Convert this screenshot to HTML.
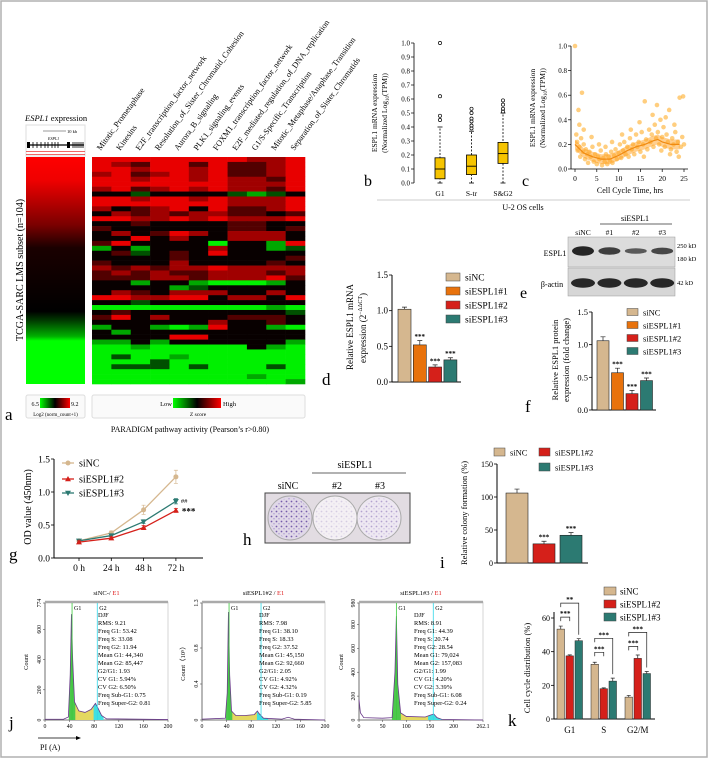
<!DOCTYPE html>
<html><head><meta charset="utf-8"><style>
html,body{margin:0;padding:0;background:#fff;}
svg{display:block;font-family:"Liberation Serif","DejaVu Serif",serif;}
</style></head><body>
<svg id="fig" xmlns="http://www.w3.org/2000/svg" width="708" height="759" viewBox="0 0 708 759">
<defs>
<linearGradient id="espGrad" x1="0" y1="0" x2="0" y2="1">
<stop offset="0" stop-color="#ff0000"/><stop offset="0.1" stop-color="#f00000"/><stop offset="0.3" stop-color="#7a0000"/><stop offset="0.4" stop-color="#1a0000"/><stop offset="0.68" stop-color="#000"/><stop offset="0.72" stop-color="#003a00"/><stop offset="0.79" stop-color="#00b000"/><stop offset="0.81" stop-color="#00ff00"/><stop offset="1" stop-color="#00ff00"/>
</linearGradient>
<linearGradient id="gkr" x1="0" y1="0" x2="1" y2="0"><stop offset="0" stop-color="#00ff00"/><stop offset="0.5" stop-color="#000"/><stop offset="1" stop-color="#ff0000"/></linearGradient>
<pattern id="dots" width="5" height="5" patternUnits="userSpaceOnUse"><circle cx="1.5" cy="1.5" r="0.9" fill="#5a3c9a"/><circle cx="4" cy="3.8" r="0.6" fill="#7a60b8"/></pattern>
</defs>
<rect x="1" y="1" width="706" height="756" fill="#fff" stroke="#b0b0b0" stroke-width="1.5"/>

<g>
<text x="25" y="121" font-size="8.5"><tspan font-style="italic">ESPL1</tspan> expression</text>
<rect x="26" y="125" width="59" height="31" fill="#fff" stroke="#ddd"/>
<line x1="43" y1="131" x2="66" y2="131" stroke="#333" stroke-width="0.5"/>
<text x="67" y="133" font-size="4.5">10 kb</text>
<text x="48" y="140" font-size="4" font-style="italic">ESPL1</text>
<line x1="27" y1="145" x2="84" y2="145" stroke="#000" stroke-width="1.2"/>
<rect x="27" y="142" width="3" height="6" fill="#000"/><rect x="67" y="142" width="3" height="6" fill="#000"/>
<g stroke="#000" stroke-width="0.8"><line x1="33" y1="142" x2="33" y2="148"/><line x1="37" y1="142" x2="37" y2="148"/><line x1="41" y1="142" x2="41" y2="148"/><line x1="45" y1="142" x2="45" y2="148"/><line x1="48" y1="142" x2="48" y2="148"/><line x1="52" y1="142" x2="52" y2="148"/><line x1="55" y1="142" x2="55" y2="148"/><line x1="58" y1="142" x2="58" y2="148"/><line x1="73" y1="142" x2="73" y2="148"/><line x1="75" y1="142" x2="75" y2="148"/><line x1="77" y1="142" x2="77" y2="148"/><line x1="79" y1="142" x2="79" y2="148"/><line x1="81" y1="142" x2="81" y2="148"/><line x1="83" y1="142" x2="83" y2="148"/></g>
<line x1="26" y1="151.5" x2="85" y2="151.5" stroke="#e33" stroke-width="0.8"/><line x1="26" y1="154.5" x2="85" y2="154.5" stroke="#e33" stroke-width="0.8"/>
<rect x="26" y="157" width="59" height="227" fill="url(#espGrad)"/>
<text transform="translate(23,270) rotate(-90)" text-anchor="middle" font-size="10">TCGA-SARC LMS subset (n=104)</text>
<rect x="26" y="395" width="59" height="23" rx="2" fill="#fafafa" stroke="#ddd"/>
<rect x="40" y="398" width="30" height="10" fill="url(#gkr)"/>
<text x="39" y="406" text-anchor="end" font-size="6">6.5</text>
<text x="71" y="406" font-size="6">9.2</text>
<text x="55.5" y="416" text-anchor="middle" font-size="5">Log2 (norm_count+1)</text>
<rect x="92" y="395" width="213" height="23" rx="2" fill="#fafafa" stroke="#ddd"/>
<rect x="173" y="398" width="48" height="10" fill="url(#gkr)"/>
<text x="172" y="406" text-anchor="end" font-size="6.5">Low</text>
<text x="223" y="406" font-size="6.5">High</text>
<text x="198" y="416" text-anchor="middle" font-size="5.5">Z score</text>
<text x="5" y="420" font-size="17">a</text>
<text x="190" y="432" text-anchor="middle" font-size="8">PARADIGM pathway activity (Pearson’s r&gt;0.80)</text>
</g>

<g>
<text transform="translate(377,113) rotate(-90)" text-anchor="middle" font-size="7.5">ESPL1 mRNA expression</text>
<text transform="translate(387,113) rotate(-90)" text-anchor="middle" font-size="7.5">(Normalized Log<tspan font-size="5" dy="2">10</tspan><tspan dy="-2">(TPM))</tspan></text>
<text x="364" y="186" font-size="16">b</text>
<text transform="translate(535,108) rotate(-90)" text-anchor="middle" font-size="7.5">ESPL1 mRNA expression</text>
<text transform="translate(545,108) rotate(-90)" text-anchor="middle" font-size="7.5">(Normalized Log<tspan font-size="5" dy="2">10</tspan><tspan dy="-2">(TPM))</tspan></text>
<text x="522" y="186" font-size="16">c</text>
<text x="630" y="193" text-anchor="middle" font-size="8">Cell Cycle Time, hrs</text>
<line x1="377" y1="200" x2="690" y2="200" stroke="#bbb" stroke-width="0.8"/>
<text x="523" y="210" text-anchor="middle" font-size="8">U-2 OS cells</text>
</g>

<g>
<text transform="translate(353,327) rotate(-90)" text-anchor="middle" font-size="9">Relative ESPL1 mRNA</text>
<text transform="translate(366,328) rotate(-90)" text-anchor="middle" font-size="9">expression (2<tspan font-size="6" dy="-4">−ΔΔCT</tspan><tspan dy="4">)</tspan></text>
<text x="322" y="385" font-size="17">d</text>
<text x="635" y="221" text-anchor="middle" font-size="8">siESPL1</text>
<line x1="600" y1="224" x2="672" y2="224" stroke="#333" stroke-width="0.7"/>
<rect x="568" y="237" width="107" height="30" fill="#dcdcdc" stroke="#999" stroke-width="0.5"/>
<rect x="568" y="268" width="107" height="28" fill="#d6d6d6" stroke="#999" stroke-width="0.5"/>
<text x="555" y="256" text-anchor="middle" font-size="8">ESPL1</text>
<text x="552" y="287" text-anchor="middle" font-size="8">β-actin</text>
<text x="677" y="248" font-size="6.5">250 kD</text>
<text x="677" y="261" font-size="6.5">180 kD</text>
<text x="677" y="285" font-size="6.5">42 kD</text>
<text x="520" y="298" font-size="16">e</text>
<text transform="translate(558,360) rotate(-90)" text-anchor="middle" font-size="8.5">Relative ESPL1 protein</text>
<text transform="translate(569,360) rotate(-90)" text-anchor="middle" font-size="8.5">expression (fold change)</text>
<text x="525" y="412" font-size="17">f</text>
</g>

<g>
<text transform="translate(31,507) rotate(-90)" text-anchor="middle" font-size="10">OD value (450nm)</text>
<text x="9" y="560" font-size="17">g</text>
<text x="355" y="468" text-anchor="middle" font-size="10">siESPL1</text>
<line x1="312" y1="473" x2="406" y2="473" stroke="#333" stroke-width="0.7"/>
<text x="288" y="489" text-anchor="middle" font-size="10">siNC</text>
<text x="337" y="489" text-anchor="middle" font-size="10">#2</text>
<text x="380" y="489" text-anchor="middle" font-size="10">#3</text>
<rect x="265" y="493" width="145" height="50" fill="#e2dce2" stroke="#444" stroke-width="1"/>
<circle cx="290" cy="518" r="22" fill="#e0d8e8" stroke="#aaa"/>
<circle cx="290" cy="518" r="20" fill="url(#dots)" opacity="0.8"/>
<circle cx="335" cy="518" r="22" fill="#f4f0f4" stroke="#aaa"/>
<circle cx="335" cy="518" r="20" fill="url(#dots)" opacity="0.2"/>
<circle cx="379" cy="518" r="22" fill="#eee8f2" stroke="#aaa"/>
<circle cx="379" cy="518" r="20" fill="url(#dots)" opacity="0.4"/>
<text x="243" y="545" font-size="17">h</text>
<text transform="translate(467,513) rotate(-90)" text-anchor="middle" font-size="8.5">Relative colony formation (%)</text>
<text x="440" y="568" font-size="17">i</text>
</g>

<g>
<text x="9" y="728" font-size="17">j</text>
<line x1="38" y1="738" x2="76" y2="738" stroke="#000" stroke-width="0.8"/><polygon points="76,736 81,738 76,740" fill="#000"/>
<text x="40" y="750" font-size="8">PI (A)</text>
<text transform="translate(530,668) rotate(-90)" text-anchor="middle" font-size="8.5">Cell cycle distribution (%)</text>
<text x="508" y="726" font-size="17">k</text>
</g>
</svg>
<script>
const NS='http://www.w3.org/2000/svg';
const svg=document.getElementById('fig');
function mk(tag,a,p){const e=document.createElementNS(NS,tag);for(const k in a)e.setAttribute(k,a[k]);(p||svg).appendChild(e);return e;}
function tx(s,x,y,a,p){const e=mk('text',Object.assign({x:x,y:y},a||{}),p);e.textContent=s;return e;}

const hmCols=['Mitotic_Prometaphase','Kinesins','E2F_transcription_factor_network','Resolution_of_Sister_Chromatid_Cohesion','Aurora_B_signaling','PLK1_signaling_events','FOXM1_transcription_factor_network','E2F_mediated_regulation_of_DNA_replication','G1/S-Specific_Transcription','Mitotic_Metaphase/Anaphase_Transition','Separation_of_Sister_Chromatids'];
const hmRows=['RRRRRRRRrrR','RrdRRdRddrR','RRrRRrRddrR','rRdrRrRddrR','RRrRRrRrrdR','RRRRRRRrrrR','rRdrRrRrrdR','kknkkkkngnk','RRrRRrRrrrR','RRRRRRRrrrR','rkdrRkRddrR','krdrdrrddkd','RRrrRrRrrrR','kkdkkkkddkk','dkkkkkkddkd','krkdRrkrrrk','kkRkrkkrrrk','dRkkkkGkkgR','gkgkkkrkkgn','kdnkdkRkkkk','kkkkdkkkkkd','dkkkrkkkkdk','rdrdrrRrrrr','drdrddrrrdr','dddrrdrrrRd','kkgkkgGGGgk','kkkkgnkkkkk','krdkrrrkkrk','RRrrRRkrrkR','kknkkkkkkkk','GGGGGGGGGgG','kdkkkkkkkkn','dRkrkkkdddk','kkkkkkrkkdk','gkkgGgRkkgG','kgkkkkkkkkk','kkkkRRkkkkk','ggkgkkkkkkg','GGgGGGGGkgG','GGGGGGGGGGG','GnGGgGGGGGG','GGGnGGGGGGG','GnnnGnGGGnG','GGGGGGGGGGG','GGGGGGGGgGG','GGGGGGGGGGg'];
const hmColor={R:'#e80000',r:'#a00000',d:'#520000',k:'#080000',n:'#005000',g:'#00a800',G:'#00f000'};
(function(){
  const x0=92,x1=305,y0=157,y1=384;
  const cw=(x1-x0)/hmCols.length, rh=(y1-y0)/hmRows.length;
  const g=mk('g',{});
  
  
  hmRows.forEach((row,ri)=>{
    for(let ci=0;ci<hmCols.length;ci++){
      const c=mk('rect',{x:x0+ci*cw,y:y0+ri*rh,width:cw+0.3,height:rh+0.3,fill:hmColor[row[ci]]},g);
      
      
    }
  });
  hmCols.forEach((lab,ci)=>{
    const x=x0+ci*cw+cw*0.45, y=151;
    const t=tx(lab,x,y,{'font-size':8.3,transform:'rotate(-54 '+x+' '+y+')'});
    
    
  });
})();

const bCats=['G1','S-tr','S&G2'];
const bLo=[0.0,0.0,0.0];
const bQ1=[0.03,0.06,0.14];
const bMed=[0.10,0.12,0.21];
const bQ3=[0.18,0.20,0.29];
const bHi=[0.40,0.37,0.50];
const bOut=[[0.45,0.48,0.62,1.0],[0.39,0.41,0.44,0.46,0.50,0.53],[0.51,0.53,0.56,0.59]];
const bTicks=[0,0.1,0.2,0.3,0.4,0.5,0.6,0.7,0.8,0.9,1.0];
(function(){
  const ax=414, yb=183, yt=43;
  const ys=v=>yb-v*(yb-yt);
  const xs=i=>440+i*31.5;
  const a=mk('line',{x1:ax,y1:yt,x2:ax,y2:yb,stroke:'#000','stroke-width':0.8});
  
  
  bTicks.forEach(t=>{
    mk('line',{x1:ax-3,y1:ys(t),x2:ax,y2:ys(t),stroke:'#000','stroke-width':0.7});
    const l=tx(t.toFixed(1),ax-4,ys(t)+2.5,{'font-size':7,'text-anchor':'end'});
    
    
  });
  bCats.forEach((c,i)=>{
    const x=xs(i);
    const w=mk('line',{x1:x,y1:ys(bLo[i]),x2:x,y2:ys(bHi[i]),stroke:'#000','stroke-width':0.8,'stroke-dasharray':'2,1.5'});
    
    
    mk('line',{x1:x-2.5,y1:ys(bLo[i]),x2:x+2.5,y2:ys(bLo[i]),stroke:'#000','stroke-width':0.8});
    mk('line',{x1:x-2.5,y1:ys(bHi[i]),x2:x+2.5,y2:ys(bHi[i]),stroke:'#000','stroke-width':0.8});
    const bx=mk('rect',{x:x-5,y:ys(bQ3[i]),width:10,height:ys(bQ1[i])-ys(bQ3[i]),fill:'#f6c400',stroke:'#000','stroke-width':0.8});
    
    
    const m=mk('line',{x1:x-5,y1:ys(bMed[i]),x2:x+5,y2:ys(bMed[i]),stroke:'#000','stroke-width':0.9});
    
    
    bOut[i].forEach(o=>{
      const p=mk('circle',{cx:x,cy:ys(o),r:1.6,fill:'none',stroke:'#000','stroke-width':0.7});
      
      
    });
    const l=tx(c,x,196,{'font-size':7.5,'text-anchor':'middle'});
    
    
  });
})();

const cTime=[0.0,0.3,0.5,0.6,0.8,1.0,1.2,1.4,1.6,1.8, 2.0,2.3,2.5,2.8,3.0,3.3,3.6,4.0,4.3,4.6, 5.0,5.3,5.6,5.9,6.2,6.5,6.8,7.1,7.4,7.7, 8.0,8.3,8.6,9.0,9.3,9.6,10.0,10.3,10.6,11.0, 11.3,11.6,12.0,12.3,12.6,13.0,13.3,13.6,14.0,14.3, 14.6,15.0,15.3,15.6,16.0,16.3,16.6,17.0,17.3,17.6, 18.0,18.3,18.6,19.0,19.3,19.6,20.0,20.3,20.6,21.0, 21.3,21.6,22.0,22.3,22.6,23.0,23.3,23.6,24.0,24.3, 24.6,25.0,3.8,5.5,7.0,8.5,10.8,12.8,14.8,17.8, 19.8,20.8,22.8,24.8,18.8,15.8,2.0,1.0,23.8,21.8];
const cExpr=[1.00,0.28,0.22,0.15,0.48,0.18,0.10,0.25,0.62,0.14, 0.20,0.08,0.16,0.12,0.05,0.14,0.10,0.18,0.06,0.12, 0.04,0.10,0.08,0.15,0.03,0.09,0.06,0.12,0.04,0.10, 0.07,0.14,0.05,0.11,0.16,0.08,0.13,0.20,0.09,0.15, 0.22,0.12,0.18,0.10,0.25,0.16,0.20,0.12,0.28,0.18, 0.22,0.14,0.30,0.20,0.55,0.24,0.16,0.32,0.22,0.28, 0.18,0.36,0.25,0.30,0.20,0.40,0.26,0.34,0.18,0.28, 0.22,0.48,0.16,0.25,0.20,0.30,0.14,0.22,0.58,0.18, 0.26,0.20,0.26,0.20,0.18,0.22,0.28,0.32,0.38,0.44, 0.15,0.42,0.36,0.59,0.52,0.10,0.32,0.36,0.10,0.12];
const cTrendT=[0,2,4,6,8,10,12,14,16,18,19,20,22,24];
const cTrendV=[0.20,0.13,0.10,0.08,0.08,0.11,0.15,0.18,0.20,0.23,0.24,0.22,0.20,0.20];
const cXTicks=[0,5,10,15,20,25];
const cYTicks=[0,0.2,0.4,0.6,0.8,1.0];
(function(){
  const ax=571, yb=169, yt=46, x0=575, x25=684;
  const xs=t=>x0+t*(x25-x0)/25, ys=v=>yb-v*(yb-yt);
  const a=mk('line',{x1:ax,y1:yt,x2:ax,y2:yb,stroke:'#000','stroke-width':0.8});
  
  
  const b=mk('line',{x1:ax,y1:yb,x2:688,y2:yb,stroke:'#000','stroke-width':0.8});
  
  
  cYTicks.forEach(t=>{
    mk('line',{x1:ax-3,y1:ys(t),x2:ax,y2:ys(t),stroke:'#000','stroke-width':0.7});
    const l=tx(t.toFixed(1),ax-4,ys(t)+2.5,{'font-size':7,'text-anchor':'end'});
    
    
  });
  cXTicks.forEach(t=>{
    mk('line',{x1:xs(t),y1:yb,x2:xs(t),y2:yb+3,stroke:'#000','stroke-width':0.7});
    const l=tx(String(t),xs(t),181,{'font-size':7.5,'text-anchor':'middle'});
    
    
  });
  cTime.forEach((t,i)=>{
    const p=mk('circle',{cx:xs(t),cy:ys(cExpr[i]),r:2.3,fill:'#ffb43a','fill-opacity':0.65});
    
    
  });
  let up='',dn='';
  cTrendT.forEach((t,i)=>{up+=(i?'L':'M')+xs(t)+','+ys(cTrendV[i]+0.04);});
  for(let i=cTrendT.length-1;i>=0;i--){dn+='L'+xs(cTrendT[i])+','+ys(Math.max(0,cTrendV[i]-0.04));}
  const band=mk('path',{d:up+dn+'Z',fill:'#ffa020','fill-opacity':0.5});
  
  
  const ln=mk('polyline',{points:cTrendT.map((t,i)=>xs(t)+','+ys(cTrendV[i])).join(' '),fill:'none',stroke:'#f08a10','stroke-width':1.2});
  
  
})();

const colNC='#d5b78f', col1='#e8720c', col2='#d5201a', col3='#2c7a72';
function barChart(o){
  const ys=v=>o.yb-v*(o.yb-o.yt)/o.ymax;
  const a=mk('line',{x1:o.ax,y1:o.yt,x2:o.ax,y2:o.yb,stroke:'#000','stroke-width':1});
  
  
  const b=mk('line',{x1:o.ax,y1:o.yb,x2:o.xend,y2:o.yb,stroke:'#000','stroke-width':1});
  
  
  o.ticks.forEach((t,i)=>{
    mk('line',{x1:o.ax-3,y1:ys(t),x2:o.ax,y2:ys(t),stroke:'#000','stroke-width':0.8});
    const l=tx(o.tickLabels[i],o.ax-4,ys(t)+3,{'font-size':o.fs,'text-anchor':'end'});
    
    
  });
  o.vals.forEach((v,i)=>{
    const x=o.bx+i*o.step;
    const r=mk('rect',{x:x,y:ys(v),width:o.bw,height:o.yb-ys(v),fill:o.colors[i],stroke:'#222','stroke-width':0.6});
    
    
    const cx=x+o.bw/2, ye=ys(v+o.err[i]);
    const e=mk('path',{d:'M'+cx+','+ys(v)+'V'+ye+'M'+(cx-2.5)+','+ye+'H'+(cx+2.5),stroke:'#222','stroke-width':0.7,fill:'none'});
    
    
    if(o.stars[i]){
      const s=tx(o.stars[i],cx,ye-1.5,{'font-size':7,'text-anchor':'middle','font-weight':'bold'});
      
      
    }
  });
  o.legend.forEach((L,i)=>{
    const sw=mk('rect',{x:L[1],y:L[2]-o.lh/2,width:o.lw,height:o.lh,fill:o.colors[L[3]],stroke:'#444','stroke-width':0.5});
    
    
    const t=tx(L[0],L[1]+o.lw+5,L[2]+3.3,{'font-size':o.lfs});
    
    
  });
}

const dCats=['siNC','siESPL1#1','siESPL1#2','siESPL1#3'];
const dVals=[1.02,0.52,0.21,0.31];
const dErr=[0.03,0.06,0.03,0.03];
const dStars=['','***','***','***'];
const dTicks=[0,0.5,1.0,1.5];
const dTickLabels=['0.0','0.5','1.0','1.5'];
barChart({id:'d',ax:392,yb:382,yt:275,ymax:1.5,xend:461,bx:398,bw:13,step:15.3,fs:9,cats:dCats,vals:dVals,err:dErr,stars:dStars,ticks:dTicks,tickLabels:dTickLabels,colors:[colNC,col1,col2,col3],
  legend:[['siNC',446,277,0],['siESPL1#1',446,291,1],['siESPL1#2',446,305,2],['siESPL1#3',446,319,3]],lw:14,lh:8,lfs:9.5});

const eLanes=['siNC','#1','#2','#3'];
const eEspl1=[1.0,0.7,0.4,0.6];
const eActin=[1.0,1.0,1.0,1.0];
(function(){
  eLanes.forEach((l,i)=>{
    const cx=583+i*26.4;
    const t=tx(l,cx,235,{'font-size':7.5,'text-anchor':'middle'});
    
    
    const b=mk('ellipse',{cx:cx,cy:251,rx:11,ry:1.5+eEspl1[i]*3.2,fill:'#1a1a1a','fill-opacity':0.5+eEspl1[i]*0.45});
    
    
    const c=mk('ellipse',{cx:cx,cy:283,rx:12,ry:1.5+eActin[i]*3.2,fill:'#141414','fill-opacity':0.9});
    
    
  });
})();

const fCats=['siNC','siESPL1#1','siESPL1#2','siESPL1#3'];
const fVals=[1.06,0.57,0.25,0.45];
const fErr=[0.06,0.07,0.05,0.04];
const fStars=['','***','***','***'];
const fTicks=[0,0.5,1.0,1.5];
const fTickLabels=['0.0','0.5','1.0','1.5'];
barChart({id:'f',ax:592,yb:410,yt:312,ymax:1.5,xend:656,bx:597,bw:12,step:14.5,fs:8.5,cats:fCats,vals:fVals,err:fErr,stars:fStars,ticks:fTicks,tickLabels:fTickLabels,colors:[colNC,col1,col2,col3],
  legend:[['siNC',627,312,0],['siESPL1#1',627,325,1],['siESPL1#2',627,338,2],['siESPL1#3',627,351,3]],lw:11,lh:7,lfs:8.5});

const iCats=['siNC','siESPL1#2','siESPL1#3'];
const iVals=[106,29,42];
const iErr=[6,4,4];
const iStars=['','***','***'];
const iTicks=[0,50,100,150];
const iTickLabels=['0','50','100','150'];
barChart({id:'i',ax:497,yb:563,yt:464,ymax:150,xend:588,bx:506,bw:22,step:27,fs:8,cats:iCats,vals:iVals,err:iErr,stars:iStars,ticks:iTicks,tickLabels:iTickLabels,colors:[colNC,col2,col3],
  legend:[['siNC',494,452,0],['siESPL1#2',539,452,1],['siESPL1#3',539,467,2]],lw:11,lh:8,lfs:8.5});

const gCats=['0 h','24 h','48 h','72 h'];
const gNC=[0.26,0.38,0.73,1.23];
const g2=[0.24,0.30,0.46,0.72];
const g3=[0.26,0.34,0.55,0.86];
const gNCErr=[0.02,0.03,0.07,0.10];
const g2Err=[0.02,0.02,0.03,0.03];
const g3Err=[0.02,0.02,0.03,0.04];
const gTicks=[0,0.5,1.0,1.5];
(function(){
  const ax=54, yb=558, yt=459;
  const ys=v=>yb-v*(yb-yt)/1.5, xs=i=>79+i*32.3;
  const a=mk('line',{x1:ax,y1:yt,x2:ax,y2:yb,stroke:'#000','stroke-width':1});
  
  
  const b=mk('line',{x1:ax,y1:yb,x2:203,y2:yb,stroke:'#000','stroke-width':1});
  
  
  gTicks.forEach(t=>{
    mk('line',{x1:ax-3,y1:ys(t),x2:ax,y2:ys(t),stroke:'#000','stroke-width':0.8});
    const l=tx(t.toFixed(1),ax-4,ys(t)+3.5,{'font-size':9.5,'text-anchor':'end'});
    
    
  });
  gCats.forEach((c,i)=>{
    mk('line',{x1:xs(i),y1:yb,x2:xs(i),y2:yb+3,stroke:'#000','stroke-width':0.8});
    const l=tx(c,xs(i),571,{'font-size':9.5,'text-anchor':'middle'});
    
    
  });
  const series=[[gNC,gNCErr,colNC,'circle','siNC',463],[g3,g3Err,col3,'down','siESPL1#3',493],[g2,g2Err,col2,'up','siESPL1#2',479]];
  function marker(kind,x,y,col){
    if(kind==='circle') return mk('circle',{cx:x,cy:y,r:2.5,fill:col});
    if(kind==='up') return mk('polygon',{points:(x-3)+','+(y+2.2)+' '+(x+3)+','+(y+2.2)+' '+x+','+(y-3),fill:col});
    return mk('polygon',{points:(x-3)+','+(y-2.2)+' '+(x+3)+','+(y-2.2)+' '+x+','+(y+3),fill:col});
  }
  series.forEach(s=>{
    const ln=mk('polyline',{points:s[0].map((v,i)=>xs(i)+','+ys(v)).join(' '),fill:'none',stroke:s[2],'stroke-width':1.3});
    
    
    s[0].forEach((v,i)=>{
      const e=mk('path',{d:'M'+xs(i)+','+ys(v-s[1][i])+'V'+ys(v+s[1][i])+'M'+(xs(i)-2)+','+ys(v-s[1][i])+'H'+(xs(i)+2)+'M'+(xs(i)-2)+','+ys(v+s[1][i])+'H'+(xs(i)+2),stroke:s[2],'stroke-width':0.7,fill:'none'});
      
      
      const m=marker(s[3],xs(i),ys(v),s[2]);
      
      
    });
    mk('line',{x1:62,y1:s[5],x2:74,y2:s[5],stroke:s[2],'stroke-width':1.3});
    const lm=marker(s[3],68,s[5],s[2]);
    
    
    const lt=tx(s[4],79,s[5]+3.5,{'font-size':10});
    
    
  });
  const h=tx('##',xs(3)+5,ys(g3[3])+2,{'font-size':6.5});
  
  
  const st=tx('***',xs(3)+6,ys(g2[3])+4,{'font-size':9,'font-weight':'bold'});
  
  
})();

const j1X=[0,30,38,41,43,45,48,55,65,75,82,86,92,100,200];
const j1Y=[5,5,20,300,700,400,120,60,50,70,110,80,30,8,3];
const j2X=[0,38,41,43,45,48,55,70,85,90,93,100,130,140,150,200];
const j2Y=[0.01,0.02,0.3,1.2,0.5,0.1,0.05,0.05,0.06,0.1,0.07,0.02,0.01,0.03,0.01,0];
const j3X=[0,3,10,50,70,76,79,82,88,100,140,150,158,165,175,262.1];
const j3Y=[170,60,20,15,20,400,870,300,60,30,25,40,50,20,5,0];
const j1Stats=['DJF','RMS: 9.21','Freq G1: 53.42','Freq S: 33.08','Freq G2: 11.94','Mean G1: 44,340','Mean G2: 85,447','G2/G1: 1.93','CV G1: 5.94%','CV G2: 6.50%','Freq Sub-G1: 0.75','Freq Super-G2: 0.81'];
const j2Stats=['DJF','RMS: 7.98','Freq G1: 38.10','Freq S: 18.33','Freq G2: 37.52','Mean G1: 45,150','Mean G2: 92,660','G2/G1: 2.05','CV G1: 4.92%','CV G2: 4.32%','Freq Sub-G1: 0.19','Freq Super-G2: 5.85'];
const j3Stats=['DJF','RMS: 8.91','Freq G1: 44.39','Freq S: 20.74','Freq G2: 28.54','Mean G1: 79,024','Mean G2: 157,083','G2/G1: 1.99','CV G1: 4.20%','CV G2: 3.39%','Freq Sub-G1: 6.08','Freq Super-G2: 0.24'];
const j1XTicks=[0,40,80,120,160,200], j2XTicks=[0,40,80,120,160,200], j3XTicks=[0,50,100,150,200,262.1];
const j1YTicks=[0,200,400,600,774], j2YTicks=[0,0.4,0.8,1.3], j3YTicks=[0,200,400,600,800,980];
const j1G=[44,85], j2G=[44,96], j3G=[79,157];
(function(){
  const plots=[
    {id:'j1',x0:45,x1:168,xmax:200,ymax:774,X:j1X,Y:j1Y,st:j1Stats,xt:j1XTicks,yt:j1YTicks,pk:j1G,title:'siNC-/ ',ylab:'Count',tx:98,ylx:28},
    {id:'j2',x0:202,x1:325,xmax:200,ymax:1.3,X:j2X,Y:j2Y,st:j2Stats,xt:j2XTicks,yt:j2YTicks,pk:j2G,title:'siESPL1#2 / ',ylab:'Count（10⁵）',tx:259,ylx:185},
    {id:'j3',x0:359,x1:483,xmax:262.1,ymax:980,X:j3X,Y:j3Y,st:j3Stats,xt:j3XTicks,yt:j3YTicks,pk:j3G,title:'siESPL1#3 / ',ylab:'Count',tx:414,ylx:343}
  ];
  const yb=720, ytop=603;
  plots.forEach(p=>{
    const xs=v=>p.x0+v*(p.x1-p.x0)/p.xmax, ys=v=>yb-v*(yb-ytop)/p.ymax;
    const fr=mk('rect',{x:p.x0,y:ytop-1,width:p.x1-p.x0,height:yb-ytop+1,fill:'#fff',stroke:'#bbb','stroke-width':0.6});
    
    
    mk('line',{x1:p.x0,y1:ytop-1,x2:p.x1,y2:ytop-1,stroke:'#aaa','stroke-width':2.5});
    mk('line',{x1:p.x0,y1:ytop,x2:p.x0,y2:yb,stroke:'#555','stroke-width':0.8});
    mk('line',{x1:p.x0,y1:yb,x2:p.x1,y2:yb,stroke:'#555','stroke-width':0.8});
    const t=mk('text',{x:(p.x0+p.x1)/2,y:595,'font-size':6.5,'text-anchor':'middle'});
    
    
    const s1=mk('tspan',{},t); s1.textContent=p.title;
    const s2=mk('tspan',{fill:'#e02020'},t); s2.textContent='E1';
    p.xt.forEach(v=>{
      mk('line',{x1:xs(v),y1:yb,x2:xs(v),y2:yb+2,stroke:'#555','stroke-width':0.6});
      const l=tx(String(v),xs(v),728,{'font-size':5.8,'text-anchor':'middle'});
      
      
    });
    p.yt.forEach(v=>{
      mk('line',{x1:p.x0-2,y1:ys(v),x2:p.x0,y2:ys(v),stroke:'#555','stroke-width':0.6});
      const l=tx(String(v),p.x0-4,ys(v),{'font-size':5.8,'text-anchor':'middle',transform:'rotate(-90 '+(p.x0-4)+' '+ys(v)+')'});
      
      
    });
    const yl=tx(p.ylab,p.ylx,662,{'font-size':6.5,'text-anchor':'middle',transform:'rotate(-90 '+p.ylx+' 662)'});
    
    
    const pts=p.X.map((v,i)=>xs(v)+','+ys(p.Y[i])).join(' ');
    const area=xs(0)+','+yb+' '+pts+' '+xs(p.xmax)+','+yb;
    const cid='clip'+p.id;
    const cp=mk('clipPath',{id:cid}); mk('polygon',{points:area},cp);
    const gs=mk('g',{'clip-path':'url(#'+cid+')'});
    const gS=mk('rect',{x:xs(p.pk[0]),y:ytop,width:xs(p.pk[1])-xs(p.pk[0]),height:yb-ytop,fill:'#e4d860'},gs);
    
    
    const g1=mk('rect',{x:xs(p.pk[0]*0.88),y:ytop,width:xs(p.pk[0]*1.12)-xs(p.pk[0]*0.88),height:yb-ytop,fill:'#4cc84c'},gs);
    
    
    const g2r=mk('rect',{x:xs(p.pk[1]*0.93),y:ytop,width:xs(p.pk[1]*1.12)-xs(p.pk[1]*0.93),height:yb-ytop,fill:'#40e0e0'},gs);
    
    
    const hl=mk('polyline',{points:pts,fill:'none',stroke:'#6a3a8a','stroke-width':0.8});
    
    
    [[p.pk[0],'#3cc83c','G1'],[p.pk[1],'#30d8e8','G2']].forEach(m=>{
      const ml=mk('line',{x1:xs(m[0]),y1:ytop,x2:xs(m[0]),y2:yb,stroke:m[1],'stroke-width':0.8});
      
      
      const mt=tx(m[2],xs(m[0])+2,610,{'font-size':6});
      
      
    });
    p.st.forEach((s,i)=>{
      const l=tx(s,p.tx,617+i*8,{'font-size':6.4});
      
      
    });
  });
})();

const kGroups=['G1','S','G2/M'];
const kNC=[53.4,32.5,13.0];
const k2=[37.5,18.0,36.0];
const k3=[46.5,22.5,27.0];
const kNCErr=[1.8,1.2,1.0];
const k2Err=[0.6,0.5,2.0];
const k3Err=[1.2,1.8,1.2];
const kSig2=['***','***','***'];
const kSig3=['**','***','***'];
const kTicks=[0,20,40,60];
(function(){
  const ax=554, yb=719, yt=618;
  const ys=v=>yb-v*(yb-yt)/60;
  const a=mk('line',{x1:ax,y1:612,x2:ax,y2:yb,stroke:'#000','stroke-width':1});
  
  
  const b=mk('line',{x1:ax,y1:yb,x2:655,y2:yb,stroke:'#000','stroke-width':1});
  
  
  kTicks.forEach(t=>{
    mk('line',{x1:ax-3,y1:ys(t),x2:ax,y2:ys(t),stroke:'#000','stroke-width':0.8});
    const l=tx(String(t),ax-4,ys(t)+3,{'font-size':8,'text-anchor':'end'});
    
    
  });
  const sets=[[kNC,kNCErr,colNC,'siNC'],[k2,k2Err,col2,'siESPL1#2'],[k3,k3Err,col3,'siESPL1#3']];
  kGroups.forEach((g,gi)=>{
    const gx=557+gi*34;
    sets.forEach((s,si)=>{
      const x=gx+si*9, v=s[0][gi];
      const r=mk('rect',{x:x,y:ys(v),width:7.5,height:yb-ys(v),fill:s[2],stroke:'#222','stroke-width':0.5});
      
      
      const cx=x+3.75, ye=ys(v+s[1][gi]);
      const e=mk('path',{d:'M'+cx+','+ys(v)+'V'+ye+'M'+(cx-2)+','+ye+'H'+(cx+2),stroke:'#222','stroke-width':0.7,fill:'none'});
      
      
    });
    const c0=gx+3.75, c1=gx+12.75, c2=gx+21.75;
    const y1=ys(Math.max(kNC[gi],k2[gi]))-12;
    const y2=y1-14;
    const br1=mk('path',{d:'M'+c0+','+(y1+4)+'V'+y1+'H'+c1+'V'+(y1+4),stroke:'#222','stroke-width':0.7,fill:'none'});
    
    
    const s1=tx(kSig2[gi],(c0+c1)/2,y1-1,{'font-size':7,'text-anchor':'middle','font-weight':'bold'});
    
    
    const br2=mk('path',{d:'M'+c0+','+(y2+4)+'V'+y2+'H'+c2+'V'+(ys(Math.max(k3[gi]+k3Err[gi],0))-4),stroke:'#222','stroke-width':0.7,fill:'none'});
    
    
    const s2=tx(kSig3[gi],(c0+c2)/2,y2-1,{'font-size':7,'text-anchor':'middle','font-weight':'bold'});
    
    
    const l=tx(g,gx+12.75,733,{'font-size':9,'text-anchor':'middle'});
    
    
  });
  sets.forEach((s,si)=>{
    const y=591+si*13;
    const sw=mk('rect',{x:604,y:y-4,width:12,height:8,fill:s[2],stroke:'#444','stroke-width':0.5});
    
    
    const t=tx(s[3],620,y+3.5,{'font-size':9});
    
    
  });
})();
</script>
</body></html>
